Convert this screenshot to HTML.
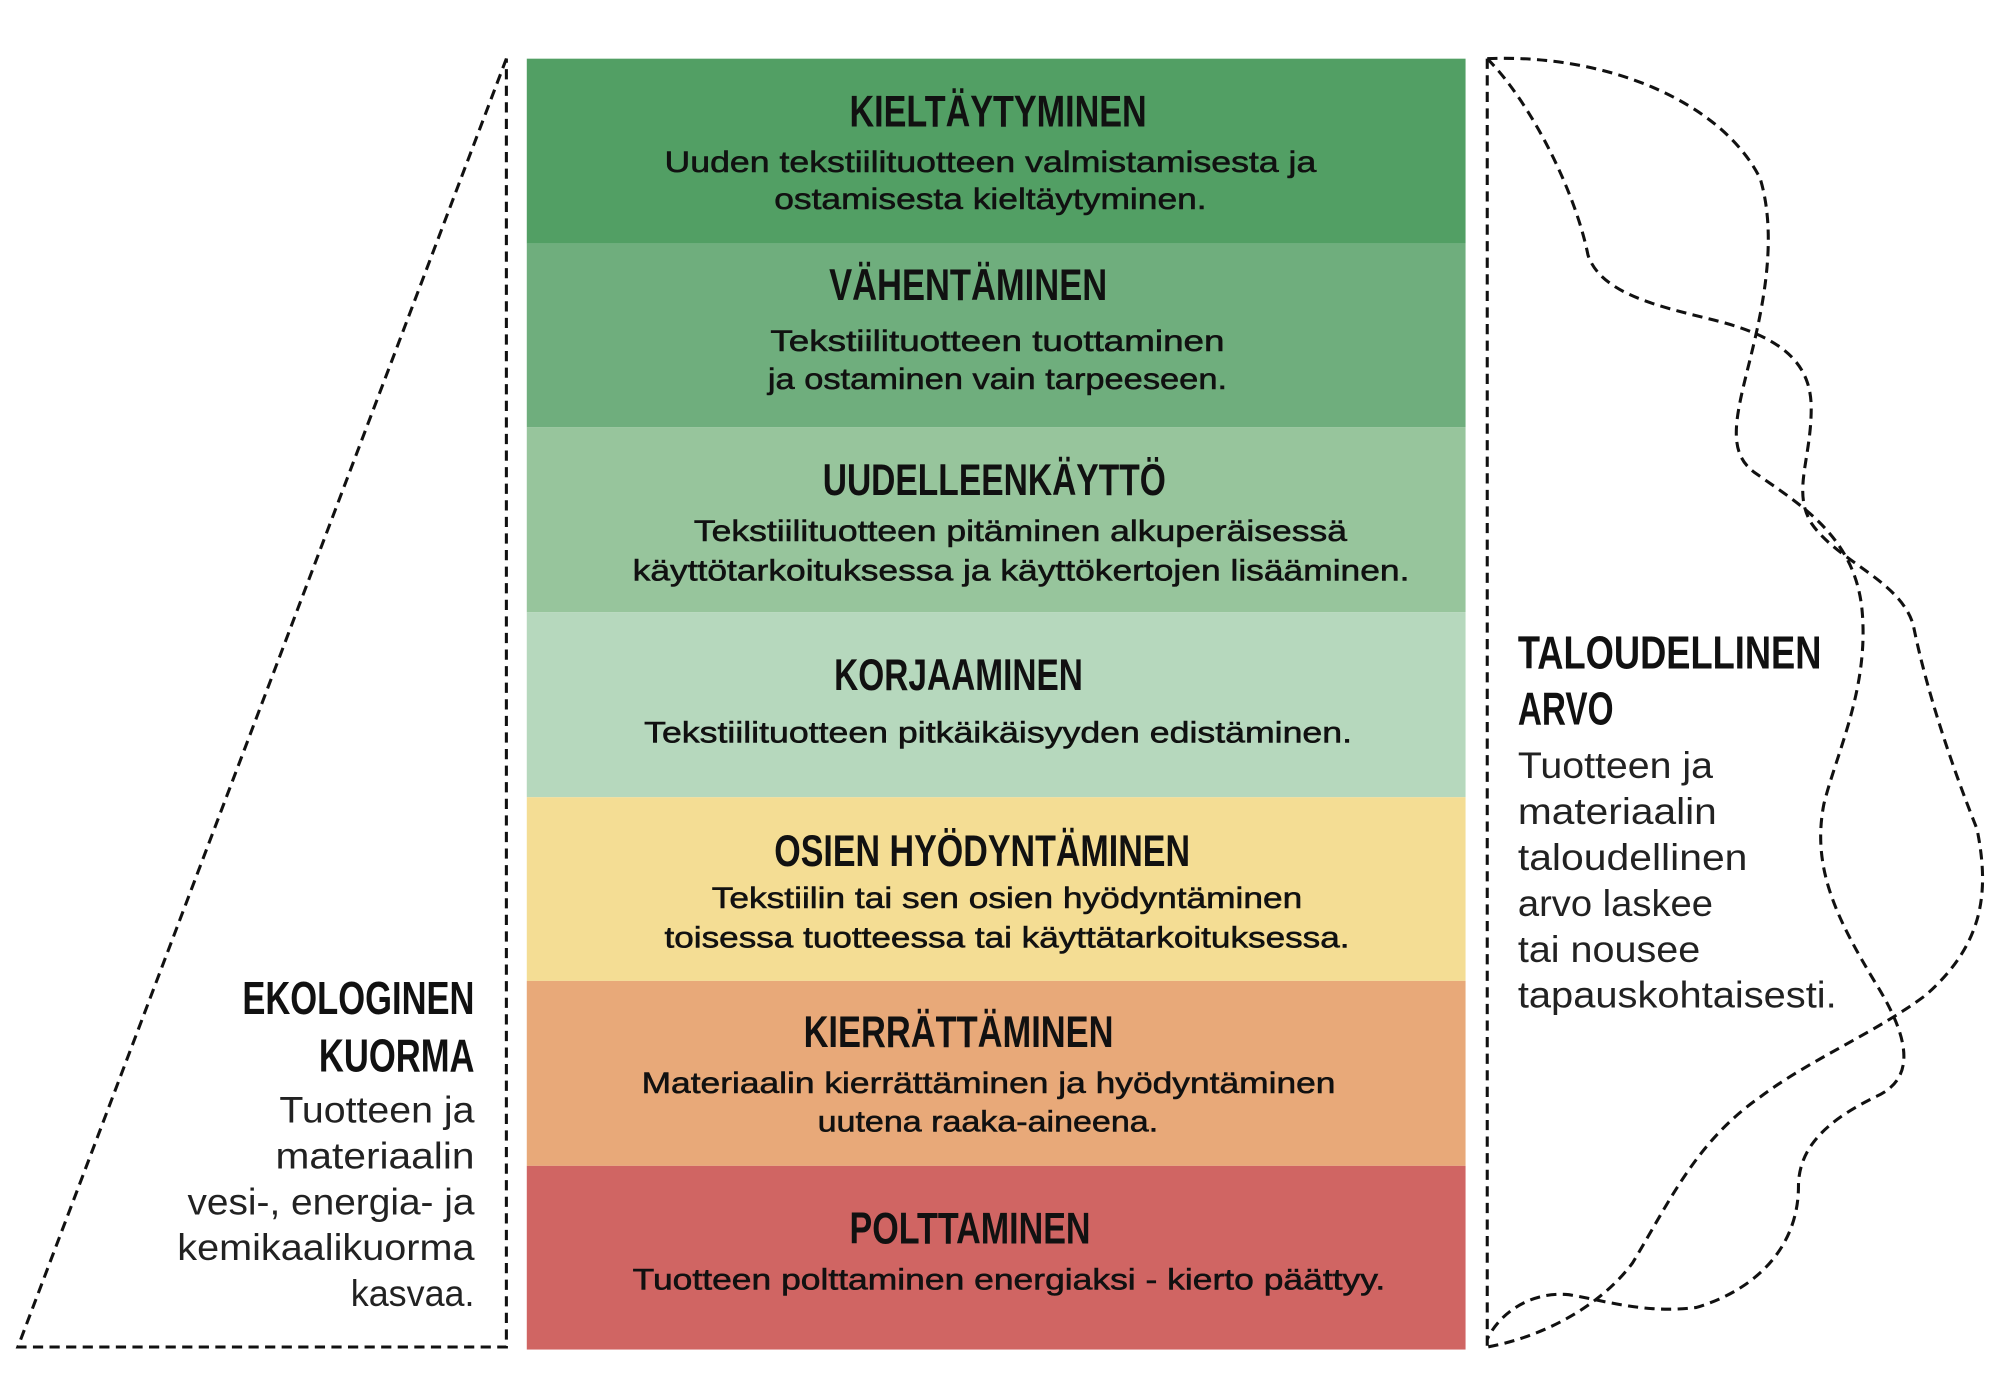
<!DOCTYPE html>
<html><head><meta charset="utf-8"><style>
html,body{margin:0;padding:0;background:#fff;}
svg{display:block;}
.h{font-family:"Liberation Sans Narrow","Liberation Sans",sans-serif;font-weight:bold;font-size:35px;fill:#111;}
.b{font-family:"Liberation Sans Narrow","Liberation Sans",sans-serif;font-size:23px;fill:#111;stroke:#111;stroke-width:0.45;}
.sh{font-family:"Liberation Sans Narrow","Liberation Sans",sans-serif;font-weight:bold;font-size:36px;fill:#111;}
.sb{font-family:"Liberation Sans Narrow","Liberation Sans",sans-serif;font-size:29px;fill:#222;}
.d{fill:none;stroke:#111;stroke-width:2.4;stroke-dasharray:8 5;}
</style></head><body>
<svg width="2000" height="1397" viewBox="0 0 1568 1095.2" preserveAspectRatio="none" xmlns="http://www.w3.org/2000/svg">
<rect x="413" y="46" width="736" height="145" fill="#529f64"/>
<rect x="413" y="191" width="736" height="144" fill="#6fae7d"/>
<rect x="413" y="335" width="736" height="145" fill="#97c59c"/>
<rect x="413" y="480" width="736" height="145" fill="#b6d8bd"/>
<rect x="413" y="625" width="736" height="144" fill="#f4dd94"/>
<rect x="413" y="769" width="736" height="145" fill="#e8a979"/>
<rect x="413" y="914" width="736" height="144" fill="#d06563"/>

<text class="h" x="666" y="99" textLength="233" lengthAdjust="spacingAndGlyphs">KIELTÄYTYMINEN</text>
<text class="b" x="521" y="135" textLength="511" lengthAdjust="spacingAndGlyphs">Uuden tekstiilituotteen valmistamisesta ja</text>
<text class="b" x="607" y="164" textLength="339" lengthAdjust="spacingAndGlyphs">ostamisesta kieltäytyminen.</text>

<text class="h" x="650" y="235" textLength="218" lengthAdjust="spacingAndGlyphs">VÄHENTÄMINEN</text>
<text class="b" x="604" y="275" textLength="356" lengthAdjust="spacingAndGlyphs">Tekstiilituotteen tuottaminen</text>
<text class="b" x="602" y="305" textLength="360" lengthAdjust="spacingAndGlyphs">ja ostaminen vain tarpeeseen.</text>

<text class="h" x="645" y="388" textLength="269" lengthAdjust="spacingAndGlyphs">UUDELLEENKÄYTTÖ</text>
<text class="b" x="544" y="424" textLength="512" lengthAdjust="spacingAndGlyphs">Tekstiilituotteen pitäminen alkuperäisessä</text>
<text class="b" x="496" y="455" textLength="609" lengthAdjust="spacingAndGlyphs">käyttötarkoituksessa ja käyttökertojen lisääminen.</text>

<text class="h" x="654" y="541" textLength="195" lengthAdjust="spacingAndGlyphs">KORJAAMINEN</text>
<text class="b" x="505" y="582" textLength="555" lengthAdjust="spacingAndGlyphs">Tekstiilituotteen pitkäikäisyyden edistäminen.</text>

<text class="h" x="607" y="679" textLength="326" lengthAdjust="spacingAndGlyphs">OSIEN HYÖDYNTÄMINEN</text>
<text class="b" x="558" y="712" textLength="463" lengthAdjust="spacingAndGlyphs">Tekstiilin tai sen osien hyödyntäminen</text>
<text class="b" x="521" y="743" textLength="537" lengthAdjust="spacingAndGlyphs">toisessa tuotteessa tai käyttätarkoituksessa.</text>

<text class="h" x="630" y="821" textLength="243" lengthAdjust="spacingAndGlyphs">KIERRÄTTÄMINEN</text>
<text class="b" x="503" y="857" textLength="544" lengthAdjust="spacingAndGlyphs">Materiaalin kierrättäminen ja hyödyntäminen</text>
<text class="b" x="641" y="887" textLength="267" lengthAdjust="spacingAndGlyphs">uutena raaka-aineena.</text>

<text class="h" x="666" y="975" textLength="189" lengthAdjust="spacingAndGlyphs">POLTTAMINEN</text>
<text class="b" x="496" y="1011" textLength="590" lengthAdjust="spacingAndGlyphs">Tuotteen polttaminen energiaksi - kierto päättyy.</text>

<path class="d" d="M397,46 L14,1056 L397,1056 Z"/>
<text class="sh" x="190" y="795" textLength="182" lengthAdjust="spacingAndGlyphs">EKOLOGINEN</text>
<text class="sh" x="250" y="840" textLength="122" lengthAdjust="spacingAndGlyphs">KUORMA</text>
<text class="sb" x="219" y="880" textLength="153" lengthAdjust="spacingAndGlyphs">Tuotteen ja</text>
<text class="sb" x="216" y="916" textLength="156" lengthAdjust="spacingAndGlyphs">materiaalin</text>
<text class="sb" x="147" y="952" textLength="225" lengthAdjust="spacingAndGlyphs">vesi-, energia- ja</text>
<text class="sb" x="139" y="988" textLength="233" lengthAdjust="spacingAndGlyphs">kemikaalikuorma</text>
<text class="sb" x="275" y="1024" textLength="97" lengthAdjust="spacingAndGlyphs">kasvaa.</text>

<path class="d" d="M1166,46 L1166,1056"/>
<path class="d" d="M1166,46 C1260,42 1350,80 1380,140 C1395,190 1380,250 1370,290 C1360,330 1355,355 1375,370 C1410,395 1455,420 1460,480 C1465,540 1440,590 1430,630 C1420,680 1440,720 1470,770 C1495,810 1505,845 1470,860 C1440,875 1410,895 1410,930 C1410,975 1380,1010 1330,1025 C1290,1030 1260,1020 1230,1015 C1200,1012 1175,1030 1166,1050"/>
<path class="d" d="M1166,46 C1200,80 1235,150 1245,200 C1255,230 1300,240 1340,250 C1390,262 1420,280 1420,320 C1420,360 1405,385 1420,410 C1440,440 1490,455 1500,490 C1510,540 1530,600 1550,650 C1560,700 1555,740 1510,780 C1470,810 1420,830 1380,860 C1330,895 1310,940 1280,990 C1250,1030 1200,1050 1166,1056"/>
<text class="sh" x="1190" y="524" textLength="238" lengthAdjust="spacingAndGlyphs">TALOUDELLINEN</text>
<text class="sh" x="1190" y="568" textLength="75" lengthAdjust="spacingAndGlyphs">ARVO</text>
<text class="sb" x="1190" y="610" textLength="153" lengthAdjust="spacingAndGlyphs">Tuotteen ja</text>
<text class="sb" x="1190" y="646" textLength="156" lengthAdjust="spacingAndGlyphs">materiaalin</text>
<text class="sb" x="1190" y="682" textLength="180" lengthAdjust="spacingAndGlyphs">taloudellinen</text>
<text class="sb" x="1190" y="718" textLength="153" lengthAdjust="spacingAndGlyphs">arvo laskee</text>
<text class="sb" x="1190" y="754" textLength="143" lengthAdjust="spacingAndGlyphs">tai nousee</text>
<text class="sb" x="1190" y="790" textLength="250" lengthAdjust="spacingAndGlyphs">tapauskohtaisesti.</text>
</svg>
</body></html>
